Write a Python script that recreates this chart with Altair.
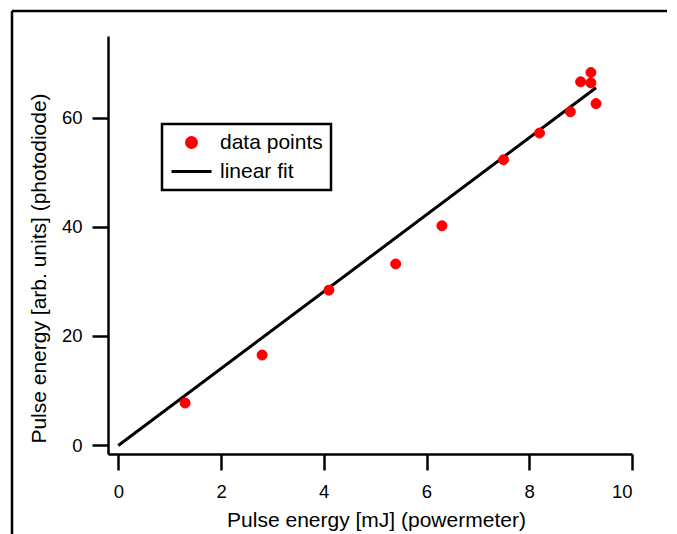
import altair as alt
import pandas as pd

# measured values
x_data = [1.3, 2.8, 4.1, 5.4, 6.3, 7.5, 8.2, 8.8, 9.0, 9.2, 9.2, 9.3]
y_data = [7.7, 16.5, 28.4, 33.2, 40.2, 52.3, 57.2, 61.1, 66.6, 68.3, 66.4, 62.6]

# linear fit end points
fit_x = [0.0, 9.3]
fit_y = [-0.1, 65.5]

series = ["data points", "linear fit"]
series_colors = ["#ff0000", "#000000"]
series_shapes = ["circle", "M-4,0H4"]

x_ticks = [0, 2, 4, 6, 8, 10]
y_ticks = [0, 20, 40, 60]

pts = pd.DataFrame({"x": x_data, "y": y_data, "series": [series[0]] * len(x_data)})
fit = pd.DataFrame({"x": fit_x, "y": fit_y})

FONT = "Liberation Sans"

xscale = alt.Scale(domain=[-0.2, 10], nice=False, zero=False)
yscale = alt.Scale(domain=[-1.65, 75], nice=False, zero=False)

xaxis = alt.Axis(values=x_ticks, title="Pulse energy [mJ] (powermeter)", grid=False,
                 tickSize=16, tickWidth=2.5, domainWidth=2.5, domainColor="black",
                 tickColor="black", labelFont=FONT, labelFontSize=18.5, labelColor="black",
                 titleFont=FONT, titleFontSize=21, titleFontWeight="normal", titleColor="black",
                 labelPadding=12, titlePadding=9, titleX=268)
yaxis = alt.Axis(values=y_ticks, title="Pulse energy [arb. units] (photodiode)", grid=False,
                 tickSize=16, tickWidth=2.5, domainWidth=2.5, domainColor="black",
                 tickColor="black", labelFont=FONT, labelFontSize=18.5, labelColor="black",
                 titleFont=FONT, titleFontSize=21, titleFontWeight="normal", titleColor="black",
                 labelPadding=10, titlePadding=12, titleY=232)

leg = alt.Legend(
    title=None, orient="none", legendX=54, legendY=88,
    strokeColor="black", padding=8, symbolSize=100, symbolStrokeWidth=3,
    labelFont=FONT, labelFontSize=21, labelColor="black",
    labelOffset=18, symbolOffset=11, rowPadding=6, fillColor="white",
)

points = alt.Chart(pts).mark_point(filled=True, size=100, opacity=1, strokeWidth=1).encode(
    x=alt.X("x:Q", scale=xscale, axis=xaxis),
    y=alt.Y("y:Q", scale=yscale, axis=yaxis),
    fill=alt.Fill("series:N", scale=alt.Scale(domain=series, range=series_colors), legend=leg),
    stroke=alt.Stroke("series:N", scale=alt.Scale(domain=series, range=series_colors), legend=leg),
    shape=alt.Shape("series:N", scale=alt.Scale(domain=series, range=series_shapes), legend=leg),
)

line = alt.Chart(fit).mark_line(color="black", strokeWidth=3).encode(
    x=alt.X("x:Q", scale=xscale),
    y=alt.Y("y:Q", scale=yscale),
)

frame_top = alt.Chart(pd.DataFrame({"a": [0]})).mark_rule(color="black", strokeWidth=2.5).encode(
    x=alt.value(-96), x2=alt.value(800), y=alt.value(-25))
frame_left = alt.Chart(pd.DataFrame({"a": [0]})).mark_rule(color="black", strokeWidth=2.5).encode(
    x=alt.value(-96), y=alt.value(-25), y2=alt.value(700))

chart = alt.layer(frame_top, frame_left, line, points).properties(
    width=524, height=418,
    autosize=alt.AutoSizeParams(type="none"),
    padding={"left": 100, "top": 28, "right": 35, "bottom": 80},
).configure_view(stroke=None).configure_legend(strokeWidth=2.5)

chart.save("out.html", embed_options={"renderer": "svg", "actions": False})
